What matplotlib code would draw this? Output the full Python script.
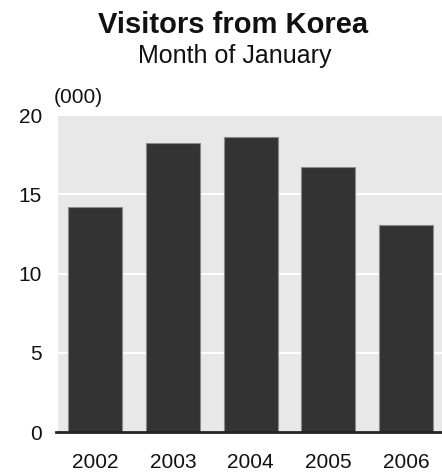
import matplotlib.pyplot as plt
from matplotlib.lines import Line2D

# --- data (thousands of visitors, January) ---
years = ["2002", "2003", "2004", "2005", "2006"]
visitors = [14.18, 18.21, 18.63, 16.70, 13.04]
y_ticks = [0, 5, 10, 15, 20]

plt.rcParams['font.family'] = ['Liberation Sans', 'DejaVu Sans']

fig = plt.figure(figsize=(4.42, 4.72), dpi=100)
ax = fig.add_axes([0.1312, 0.0847, 0.8688, 0.6716])

x = list(range(len(years)))
ax.set_facecolor('#e8e8e8')
ax.bar(x, visitors, width=0.695, color='#333333', edgecolor='#8a8a8a',
       linewidth=0.8, zorder=3)

ax.set_ylim(0, 20)
ax.set_xlim(-0.476, 4.46)
ax.set_yticks(y_ticks)
ax.set_xticks(x)
ax.set_xticklabels(years)
ax.grid(axis='y', color='white', linewidth=1.5, zorder=1)
ax.set_axisbelow(True)

for s in ax.spines.values():
    s.set_visible(False)
ax.tick_params(length=0, labelsize=15, colors='#111111')
ax.tick_params(axis='y', pad=11.5)
ax.tick_params(axis='x', pad=15)

# dark baseline, slightly extended left past the plot area
ax.add_line(Line2D([-0.006, 1], [0, 0], transform=ax.transAxes,
                   color='#222222', linewidth=2, clip_on=False, zorder=4))

fig.text(0.527, 0.930, "Visitors from Korea", ha='center', va='baseline',
         fontsize=21, fontweight='bold', color='#111111')
fig.text(0.530, 0.866, "Month of January", ha='center', va='baseline',
         fontsize=18, color='#111111')
fig.text(0.122, 0.782, "(000)", ha='left', va='baseline',
         fontsize=15, color='#111111')

fig.savefig('out.png', dpi=100)
